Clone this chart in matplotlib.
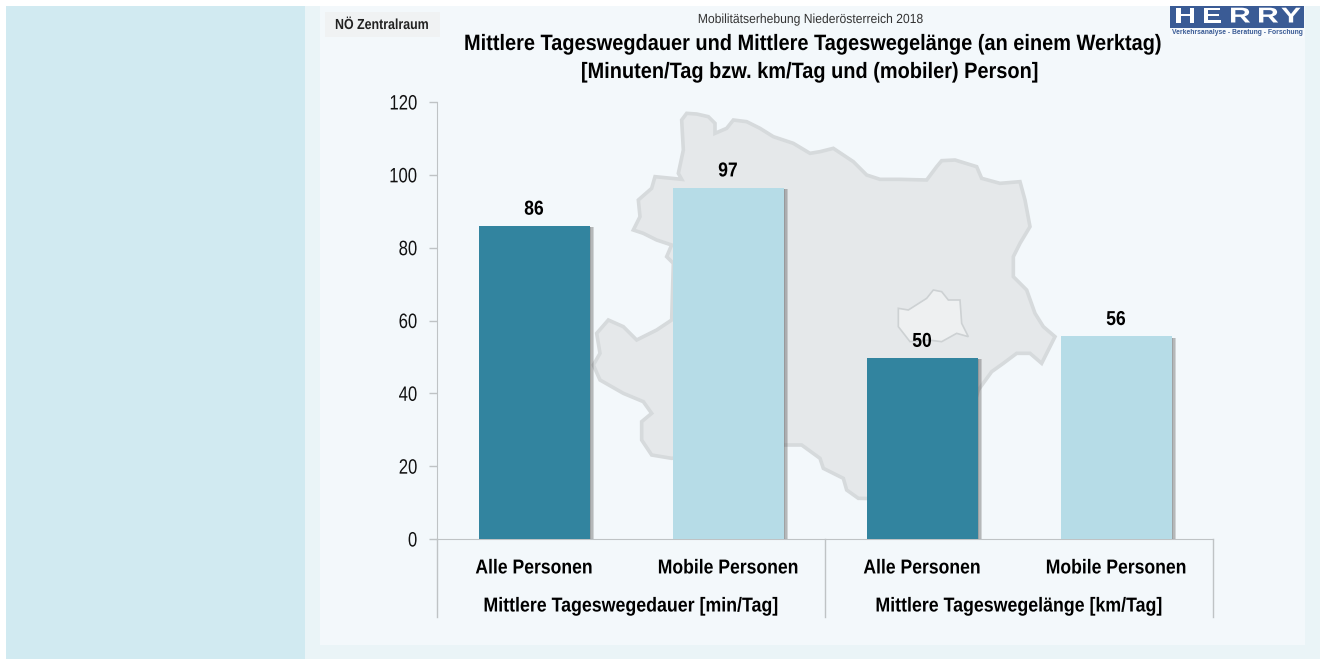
import matplotlib
matplotlib.use('Agg')
import matplotlib.pyplot as plt
import matplotlib.patheffects as pe
from matplotlib.patches import Rectangle, Polygon
from matplotlib.transforms import Affine2D

plt.rcParams['font.family'] = ['Liberation Sans', 'DejaVu Sans']

categories = ['Alle Personen', 'Mobile Personen', 'Alle Personen', 'Mobile Personen']
groups = ['Mittlere Tageswegedauer [min/Tag]', 'Mittlere Tageswegelänge [km/Tag]']
values = [86, 96.5, 49.7, 55.7]
value_labels = ['86', '97', '50', '56']
y_ticks = [0, 20, 40, 60, 80, 100, 120]

DARK = '#32849F'
LIGHT = '#B6DCE7'
PANEL = '#F3F8FB'
AXIS = '#BFC3C5'

# Umriss (Zoom-Ausschnitt x/3+580, y/3+100)
map_zoom = [(305, 60), (320, 40), (350, 42), (385, 50), (405, 70), (405, 100), (440, 85), (460, 60),
            (500, 65), (540, 85), (580, 110), (640, 130), (690, 160), (720, 155), (760, 145), (820, 185),
            (860, 225), (900, 238), (960, 238), (1040, 240), (1070, 200), (1085, 182), (1125, 180),
            (1190, 200), (1205, 235), (1260, 250), (1320, 245), (1335, 300), (1350, 380), (1320, 430),
            (1300, 470), (1300, 530), (1340, 570), (1365, 640), (1390, 680), (1425, 710), (1405, 750),
            (1385, 790), (1350, 760), (1310, 760), (1270, 790), (1235, 815), (1195, 870), (1100, 1200),
            (835, 1195), (800, 1170), (790, 1135), (730, 1105), (720, 1075), (665, 1035), (610, 1035),
            (275, 1075), (215, 1065), (185, 1020), (185, 965), (215, 940), (190, 905), (130, 880),
            (60, 840), (40, 795), (60, 760), (50, 700), (85, 660), (130, 680), (170, 720), (230, 690),
            (275, 660), (280, 490), (260, 470), (275, 435), (230, 420), (190, 400), (160, 390),
            (180, 350), (175, 300), (215, 265), (225, 230), (305, 238), (295, 220), (310, 150)]
vienna_zoom = [(955, 625), (985, 630), (1040, 595), (1060, 570), (1085, 575), (1105, 600), (1140, 600),
               (1145, 670), (1165, 710), (1130, 700), (1085, 725), (1045, 720), (990, 725), (955, 680)]


def to_px(points):
    return [(x / 3 + 580, y / 3 + 100) for x, y in points]


class Narrow(pe.AbstractPathEffect):
    # Schmalschrift gibt es nicht, also Glyphen horizontal stauchen
    def __init__(self, factor, anchor=0.5):
        super().__init__()
        self.factor = factor
        self.anchor = anchor

    def draw_path(self, renderer, gc, tpath, affine, rgbFace=None):
        ext = tpath.get_extents()
        cx = ext.x0 + self.anchor * ext.width
        squeeze = Affine2D().translate(-cx, 0).scale(self.factor, 1).translate(cx, 0)
        renderer.draw_path(gc, tpath, squeeze + affine, rgbFace)


fig = plt.figure(figsize=(13.2, 6.59), dpi=100, facecolor='white')

# Hintergrund in Pixelkoordinaten
bg = fig.add_axes([0, 0, 1, 1])
bg.set_xlim(0, 1320)
bg.set_ylim(659, 0)
bg.axis('off')
bg.add_patch(Rectangle((6, 6), 1314, 653, fc='#EAF4F7', ec='none'))
bg.add_patch(Rectangle((6, 6), 299, 653, fc='#D1EAF1', ec='none'))
bg.add_patch(Rectangle((320, 6), 985, 639, fc=PANEL, ec='none'))
bg.add_patch(Rectangle((325, 12), 115, 25, fc='#F0F2F3', ec='none'))
bg.add_patch(Polygon(to_px(map_zoom), closed=True, fc='#E5E8EA', ec='#D6DADC', lw=2.6))
bg.add_patch(Polygon(to_px(vienna_zoom), closed=True, fc='#EEF0F1', ec='#CDD1D3', lw=1.2))

t = bg.text(382, 25, 'NÖ Zentralraum', ha='center', va='center', fontsize=10.5, fontweight='bold', color='#222222')
t.set_path_effects([Narrow(0.85)])
t = bg.text(811, 20, 'Mobilitätserhebung Niederösterreich 2018', ha='center', va='center', fontsize=9.5, color='#333333')
t.set_path_effects([Narrow(0.92)])
t = bg.text(812, 44.5, 'Mittlere Tageswegdauer und Mittlere Tageswegelänge (an einem Werktag)', ha='center', va='center',
            fontsize=16, fontweight='bold', color='black')
t.set_path_effects([Narrow(0.898)])
t = bg.text(809, 72.5, '[Minuten/Tag bzw. km/Tag und (mobiler) Person]', ha='center', va='center',
            fontsize=16, fontweight='bold', color='black')
t.set_path_effects([Narrow(0.898)])

# Logo
bg.add_patch(Rectangle((1170, 6), 134, 22, fc='#3A5B95', ec='none'))
bg.add_patch(Rectangle((1170, 28), 134, 10, fc='#F7FAFC', ec='none'))
for x, letter in zip([1185, 1212, 1240, 1268, 1291], 'HERRY'):
    t = bg.text(x, 17, letter, ha='center', va='center', fontsize=15.5, fontweight='bold', color='white')
    t.set_path_effects([Narrow(1.4)])
bg.text(1237, 32.5, 'Verkehrsanalyse - Beratung - Forschung', ha='center', va='center', fontsize=4.9,
        fontweight='bold', color='#3A5B95')

# Diagramm
ax = fig.add_axes([437 / 1320, 1 - 539 / 659, 776 / 1320, 437 / 659])
ax.patch.set_alpha(0)
x = list(range(len(categories)))
bars = ax.bar(x, values, width=111 / 194, color=[DARK, LIGHT, DARK, LIGHT], zorder=3)
soft = [pe.SimplePatchShadow(offset=(o, -1), shadow_rgbFace='#555555', alpha=0.22) for o in (3.2, 2.2, 1.2)]
for bar in bars:
    bar.set_path_effects(soft + [pe.Normal()])
for xi, v, lab in zip(x, values, value_labels):
    t = ax.annotate(lab, (xi, v), xytext=(0, 12), textcoords='offset points', ha='center', va='center',
                    fontsize=14.5, fontweight='bold', color='black', zorder=4)
    t.set_path_effects([Narrow(0.87)])

ax.set_xlim(-0.5, 3.5)
ax.set_ylim(0, 120)
ax.set_yticks(y_ticks)
ax.set_xticks(x)
ax.set_xticklabels(categories, fontsize=14.5, fontweight='bold')
ax.tick_params(axis='x', length=0, pad=14)
ax.tick_params(axis='y', length=6, width=1, color=AXIS, labelsize=15, pad=8, labelcolor='#111111')
for lab in ax.get_xticklabels():
    lab.set_path_effects([Narrow(0.873)])
for lab in ax.get_yticklabels():
    lab.set_path_effects([Narrow(0.8, anchor=1)])
for s in ['top', 'right']:
    ax.spines[s].set_visible(False)
ax.spines['left'].set_color(AXIS)
ax.spines['bottom'].set_color(AXIS)

# Gruppen unter der Achse
trans = ax.get_xaxis_transform()
for xs in [-0.5, 1.5, 3.5]:
    ax.plot([xs, xs], [0, -78 / 437], transform=trans, color=AXIS, lw=1, clip_on=False)
for xs, g in zip([0.5, 2.5], groups):
    t = ax.text(xs, -67 / 437, g, transform=trans, ha='center', va='center', fontsize=14.5, fontweight='bold')
    t.set_path_effects([Narrow(0.883)])

fig.savefig('out.png', dpi=100)
